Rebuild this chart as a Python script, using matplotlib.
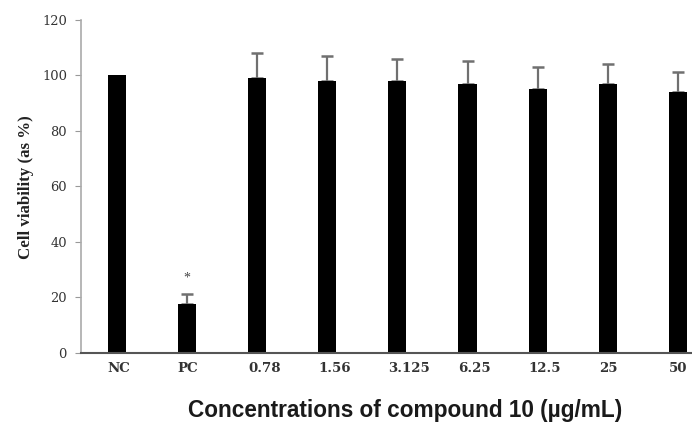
import matplotlib
matplotlib.use("Agg")
import matplotlib.pyplot as plt
import numpy as np

categories = ["NC", "PC", "0.78", "1.56", "3.125", "6.25", "12.5", "25", "50"]
viability = [100, 17.4, 99, 98, 98, 97, 95, 97, 94]
errors = [0, 3.6, 9.2, 9.1, 8.1, 8.2, 8.2, 7.2, 7.2]
significance = ["", "*", "", "", "", "", "", "", ""]
yticks = [0, 20, 40, 60, 80, 100, 120]

fig = plt.figure(figsize=(6.92, 4.25), dpi=100)
ax = fig.add_axes([81/692, 1-352.5/425, 1-81/692, (352.5-20)/425])

bar_w = 0.26
x = np.arange(len(categories))
has_err = np.array([e > 0 for e in errors])
ax.bar(x, viability, width=bar_w, color="black", zorder=2)
ax.errorbar(x[has_err], np.array(viability)[has_err],
            yerr=[np.zeros(has_err.sum()), np.array(errors)[has_err]],
            fmt="none", ecolor="#707070", elinewidth=1.6, capsize=4.3,
            capthick=1.8, zorder=1)
for xi, v, e, s in zip(x, viability, errors, significance):
    if s:
        ax.text(xi, v + e + 3.5, s, ha="center", va="bottom", fontsize=10,
                family="Liberation Serif", color="#444444")

ax.set_xlim(-0.51, 8.2)
ax.set_ylim(0, 120)
ax.set_yticks(yticks)
# labels start at the left edge of each bar
ax.set_xticks(x - bar_w / 2)
ax.set_xticklabels(categories, family="DejaVu Serif", fontweight="bold",
                   fontsize=9.6, color="#333333", ha="left")
ax.tick_params(axis="x", length=0, pad=6.5)
ax.tick_params(axis="y", length=4.3, color="#999999", pad=5.8, labelsize=9.4,
               labelcolor="#333333")
for lab in ax.get_yticklabels():
    lab.set_family("DejaVu Serif")
ax.spines["top"].set_visible(False)
ax.spines["right"].set_visible(False)
ax.spines["left"].set_color("#aaaaaa")
ax.spines["left"].set_linewidth(1.2)
ax.spines["bottom"].set_color("#555555")
ax.spines["bottom"].set_linewidth(1.5)

fig.text(25.5/692, 1-187/425, "Cell viability (as %)", family="Liberation Serif",
         fontweight="bold", fontsize=12.2, rotation=90, ha="center",
         va="center", color="#222222")
fig.text(405/692, 1-411/425, "Concentrations of compound 10 (µg/mL)",
         family="Liberation Sans", fontsize=16.3, fontweight="bold",
         ha="center", va="center", color="#1a1a1a")

fig.savefig("out.png", dpi=100)
